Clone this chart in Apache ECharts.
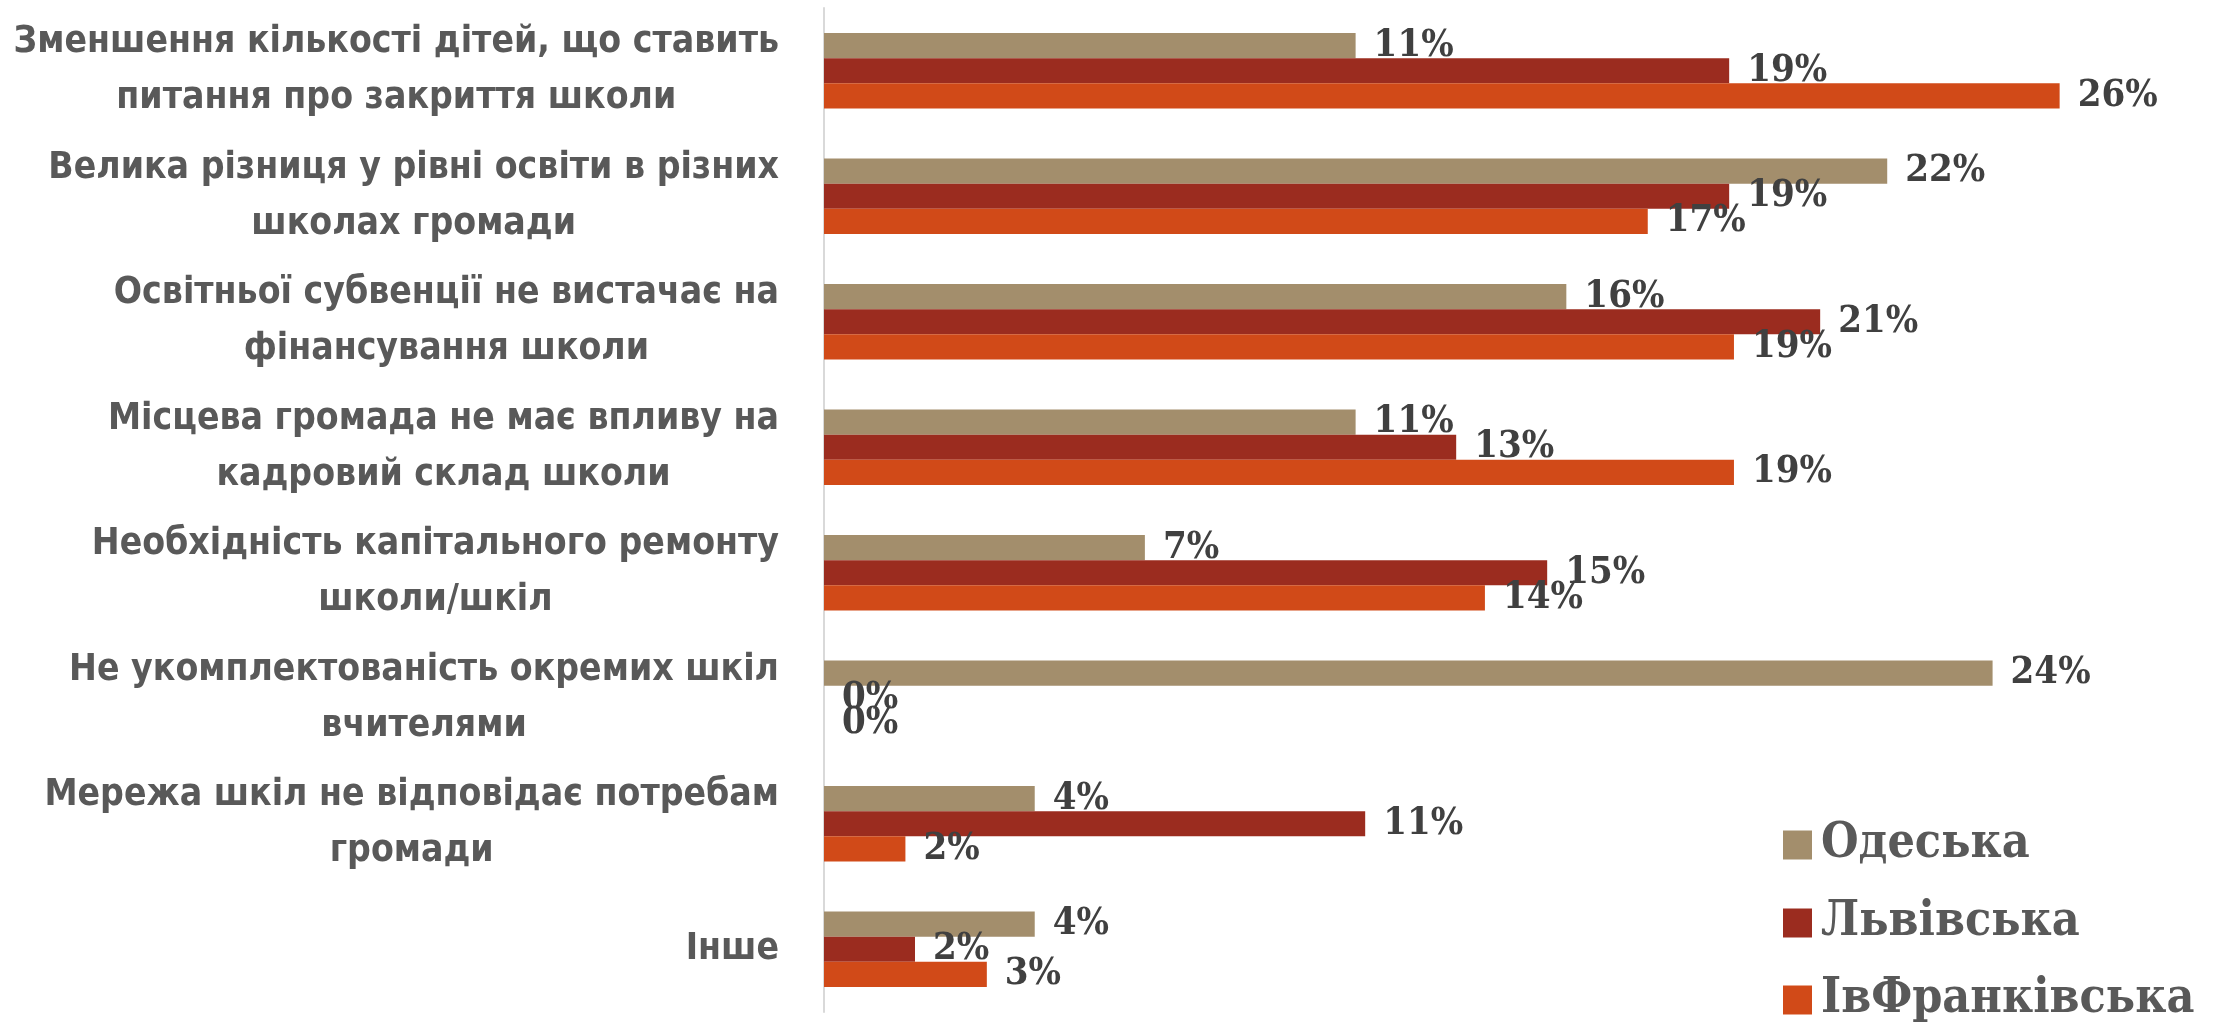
<!DOCTYPE html>
<html>
<head>
<meta charset="utf-8">
<script src="https://cdn.jsdelivr.net/npm/echarts@6/dist/echarts.min.js"></script>
<style>
html,body{margin:0;padding:0;background:#fff;}
#c{width:2226px;height:1022px;}
</style>
</head>
<body>
<div id="c"></div>
<script>
const categories = [
  "Зменшення кількості дітей, що ставить\nпитання про закриття школи",
  "Велика різниця у рівні освіти в різних\nшколах громади",
  "Освітньої субвенції не вистачає на\nфінансування школи",
  "Місцева громада не має впливу на\nкадровий склад школи",
  "Необхідність капітального ремонту\nшколи/шкіл",
  "Не укомплектованість окремих шкіл\nвчителями",
  "Мережа шкіл не відповідає потребам\nгромади",
  "Інше"
];
const seriesNames = ["Одеська", "Львівська", "ІвФранківська"];
const odesa = [11.1, 22.2, 15.5, 11.1, 6.7, 24.4, 4.4, 4.4];
const lviv  = [18.9, 18.9, 20.8, 13.2, 15.1, 0, 11.3, 1.9];
const ivfr  = [25.8, 17.2, 19.0, 19.0, 13.8, 0, 1.7, 3.4];
const colors = ["#A38E6C", "#9B2C1F", "#D14A18"];

function hasFont(name) {
  const ctx = document.createElement('canvas').getContext('2d');
  const s = 'Зменшення кількості дітей abc 0123';
  ctx.font = 'bold 42px monospace';
  const a = ctx.measureText(s).width;
  ctx.font = 'bold 42px "' + name + '", monospace';
  const b = ctx.measureText(s).width;
  return Math.abs(a - b) > 0.5;
}
let catFont = '"Liberation Sans Narrow", "Arial Narrow", sans-serif';
let catSize = 42;
if (!hasFont('Liberation Sans Narrow')) {
  catFont = '"DejaVu Sans Condensed", "DejaVu Sans", sans-serif';
  catSize = 37;
}
const serifFont = '"DejaVu Serif Condensed", "DejaVu Serif", serif';

const chart = echarts.init(document.getElementById('c'));
const labelCfg = {
  show: true,
  position: 'right',
  distance: 18,
  formatter: p => Math.round(p.value) + '%',
  color: '#404040',
  fontFamily: serifFont,
  fontWeight: 'bold',
  fontSize: 38
};
const data = [odesa, lviv, ivfr];
const legendTops = [821, 899, 976];
chart.setOption({
  animation: false,
  backgroundColor: '#fff',
  grid: { left: 824, right: 61, top: 8, bottom: 10, containLabel: false },
  legend: seriesNames.map((n, i) => ({
    orient: 'vertical',
    left: 1783,
    top: legendTops[i],
    padding: 0,
    icon: 'rect',
    itemWidth: 29,
    itemHeight: 29,
    textStyle: {
      color: '#595959',
      fontFamily: serifFont,
      fontWeight: 'bold',
      fontSize: 48,
      lineHeight: 30,
      padding: [0, 0, 0, 4]
    },
    data: [n]
  })),
  xAxis: {
    type: 'value',
    min: 0,
    max: 28,
    show: false,
    splitLine: { show: false }
  },
  yAxis: {
    type: 'category',
    inverse: true,
    data: categories,
    axisLine: { show: true, lineStyle: { color: '#d9d9d9', width: 2 } },
    axisTick: { show: false },
    axisLabel: {
      margin: 45,
      formatter: v => v.split('\n').map(l => '{c|' + l + '}').join('\n'),
      rich: {
        c: {
          align: 'center',
          color: '#595959',
          fontFamily: catFont,
          fontWeight: 'bold',
          fontSize: catSize,
          lineHeight: 56
        }
      }
    }
  },
  series: seriesNames.map((n, i) => ({
    name: n,
    type: 'bar',
    data: data[i],
    barGap: '0%',
    barCategoryGap: '40%',
    itemStyle: { color: colors[i] },
    label: labelCfg
  }))
});
</script>
</body>
</html>
